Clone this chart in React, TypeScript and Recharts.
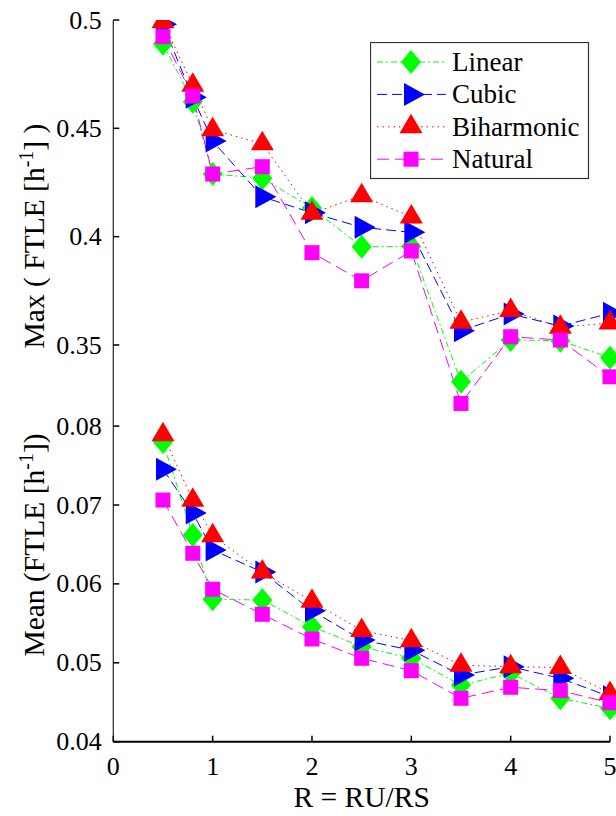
import React from 'react';
import { LineChart, Line, XAxis, YAxis, Legend } from 'recharts';

const FONT = "'Liberation Serif', 'Times New Roman', Times, 'DejaVu Serif', serif";
const TXT = { fontFamily: FONT };

const xValues = [0.5, 0.8, 1, 1.5, 2, 2.5, 3, 3.5, 4, 4.5, 5];

const maxLinear = [0.489, 0.4623, 0.4289, 0.427, 0.4132, 0.3953, 0.3955, 0.333, 0.3523, 0.352, 0.3441];
const maxCubic = [0.498, 0.4643, 0.4441, 0.4184, 0.411, 0.4043, 0.402, 0.3566, 0.3643, 0.3587, 0.3646];
const maxBiharmonic = [0.4992, 0.4699, 0.4493, 0.4429, 0.4108, 0.4189, 0.4091, 0.3605, 0.3659, 0.3582, 0.3601];
const maxNatural = [0.4923, 0.4649, 0.4289, 0.4323, 0.3926, 0.3796, 0.3934, 0.323, 0.3538, 0.3523, 0.3353];

const meanLinear = [0.078, 0.0662, 0.05805, 0.05796, 0.05458, 0.05204, 0.05057, 0.04719, 0.04867, 0.0455, 0.04423];
const meanCubic = [0.07452, 0.069, 0.0643, 0.0615, 0.0566, 0.0529, 0.0516, 0.04845, 0.0495, 0.04804, 0.0457];
const meanBiharmonic = [0.0789, 0.0706, 0.0661, 0.0615, 0.0578, 0.0541, 0.0528, 0.0497, 0.0495, 0.0494, 0.0461];
const meanNatural = [0.07063, 0.06388, 0.05932, 0.05615, 0.05302, 0.05057, 0.049, 0.0455, 0.0469, 0.04647, 0.04494];

const xTicks = [0, 1, 2, 3, 4, 5];
const maxTicks = [0.35, 0.4, 0.45, 0.5];
const meanTicks = [0.04, 0.05, 0.06, 0.07, 0.08];
const maxDomain = [0.3186, 0.5];
const meanDomain = [0.04, 0.08166];

const SERIES = [
  { key: 'linear', name: 'Linear', color: '#00ff00', dash: '6 3 2 3', marker: 'diamond' },
  { key: 'cubic', name: 'Cubic', color: '#0000ff', dash: '10 5', marker: 'triRight' },
  { key: 'biharmonic', name: 'Biharmonic', color: '#ff0000', dash: '1.5 4', marker: 'triUp' },
  { key: 'natural', name: 'Natural', color: '#ff00ff', dash: '12 6', marker: 'square' },
];

const maxData = xValues.map((x, i) => ({
  x,
  linear: maxLinear[i],
  cubic: maxCubic[i],
  biharmonic: maxBiharmonic[i],
  natural: maxNatural[i],
}));

const meanData = xValues.map((x, i) => ({
  x,
  linear: meanLinear[i],
  cubic: meanCubic[i],
  biharmonic: meanBiharmonic[i],
  natural: meanNatural[i],
}));

function Marker({ kind, cx, cy, color }: any) {
  if (cx == null || cy == null) return <g />;
  switch (kind) {
    case 'diamond':
      return <polygon points={`${cx},${cy - 12} ${cx + 10},${cy} ${cx},${cy + 12} ${cx - 10},${cy}`} fill={color} />;
    case 'triRight':
      return <polygon points={`${cx - 7},${cy - 11.5} ${cx + 14},${cy} ${cx - 7},${cy + 11.5}`} fill={color} />;
    case 'triUp':
      return <polygon points={`${cx},${cy - 13} ${cx + 11.5},${cy + 6.5} ${cx - 11.5},${cy + 6.5}`} fill={color} />;
    default:
      return <rect x={cx - 7.5} y={cy - 7.5} width={15} height={15} fill={color} />;
  }
}

const LeftTick = (props: any) => {
  const { x, y, payload } = props;
  return (
    <g>
      <line x1={x} y1={y} x2={x + 6} y2={y} stroke="#000" strokeWidth={1.5} />
      <text x={x - 11.5} y={y} dy="0.33em" textAnchor="end" fontSize={26} style={TXT} fill="#000">
        {String(payload.value)}
      </text>
    </g>
  );
};

const RightTick = (props: any) => {
  const { x, y } = props;
  return <line x1={x} y1={y} x2={x - 6} y2={y} stroke="#000" strokeWidth={1.5} />;
};

const TopTick = (props: any) => {
  const { x, y } = props;
  return <line x1={x} y1={y} x2={x} y2={y + 5} stroke="#000" strokeWidth={1.5} />;
};

const BottomTick = (props: any) => {
  const { x, y, payload } = props;
  return (
    <g>
      <line x1={x} y1={y} x2={x} y2={y - 6} stroke="#000" strokeWidth={1.5} />
      <text x={x} y={y + 33} textAnchor="middle" fontSize={26} style={TXT} fill="#000">
        {String(payload.value)}
      </text>
    </g>
  );
};

const YLabel = (text1: string, text2: string, centerOffset: number) => (props: any) => {
  const vb = props.viewBox || { x: 0, y: 0 };
  const cx = vb.x + 44;
  const cy = vb.y + centerOffset;
  return (
    <text transform={`translate(${cx},${cy}) rotate(-90)`} textAnchor="middle" fontSize={29.5} style={TXT} fill="#000">
      {text1}
      <tspan dy={-11} fontSize={20}>-1</tspan>
      <tspan dy={11}>{text2}</tspan>
    </text>
  );
};

const XLabel = (props: any) => {
  const vb = props.viewBox || { x: 0, y: 0, width: 0 };
  return (
    <text x={vb.x + vb.width / 2} y={vb.y + 65.5} textAnchor="middle" fontSize={29.5} style={TXT} fill="#000">
      R = RU/RS
    </text>
  );
};

const LegendBox = () => (
  <svg width={220} height={138} style={{ display: 'block' }}>
    <rect x={0.5} y={0.5} width={218} height={136} fill="#fff" stroke="#333" strokeWidth={1.2} />
    {SERIES.map((s, i) => {
      const cy = 20 + i * 32.4;
      return (
        <g key={s.key}>
          <line x1={7} x2={76} y1={cy} y2={cy} stroke={s.color} strokeWidth={1} strokeDasharray={s.dash} />
          <Marker kind={s.marker} cx={41} cy={cy} color={s.color} />
          <text x={82} y={cy} dy="0.33em" fontSize={27} style={TXT} fill="#000">
            {s.name}
          </text>
        </g>
      );
    })}
  </svg>
);

function renderLines(yAxisId: string) {
  return SERIES.map((s) => (
    <Line
      key={s.key}
      yAxisId={yAxisId}
      type="linear"
      dataKey={s.key}
      name={s.name}
      stroke={s.color}
      strokeWidth={1}
      strokeDasharray={s.dash}
      isAnimationActive={false}
      activeDot={false}
      dot={(p: any) => <Marker key={`${s.key}-${p.index}`} kind={s.marker} cx={p.cx} cy={p.cy} color={s.color} />}
    />
  ));
}

export default function App() {
  return (
    <div style={{ position: 'absolute', left: 0, top: 0, width: 616, height: 816, background: '#fff', fontFamily: FONT }}>
      <div style={{ position: 'absolute', left: 0, top: 0 }}>
        <LineChart width={616} height={413} data={maxData} margin={{ top: 20, right: 6, bottom: 0, left: 0 }}>
          <XAxis
            type="number"
            dataKey="x"
            orientation="top"
            domain={[0, 5]}
            ticks={xTicks}
            height={0}
            tickSize={0}
            tickMargin={0}
            interval={0}
            tick={<TopTick />}
            tickLine={false}
            axisLine={{ stroke: '#000', strokeWidth: 1.2 }}
          />
          <YAxis
            yAxisId="l"
            type="number"
            domain={maxDomain}
            allowDataOverflow
            ticks={maxTicks}
            width={113.3}
            tickSize={0}
            tickMargin={0}
            interval={0}
            tick={<LeftTick />}
            tickLine={false}
            axisLine={{ stroke: '#222', strokeWidth: 1.2 }}
            label={{ content: YLabel('Max ( FTLE [h', '] )', 216) }}
          />
          <YAxis
            yAxisId="r"
            orientation="right"
            type="number"
            domain={maxDomain}
            allowDataOverflow
            ticks={maxTicks}
            width={0}
            tickSize={0}
            tickMargin={0}
            interval={0}
            tick={<RightTick />}
            tickLine={false}
            axisLine={{ stroke: '#000', strokeWidth: 1.2 }}
          />
          {renderLines('l')}
          <Legend
            layout="vertical"
            align="center"
            verticalAlign="middle"
            content={<LegendBox />}
            wrapperStyle={{ position: 'absolute', left: 370, top: 42, width: 220, height: 138 }}
          />
        </LineChart>
      </div>
      <div style={{ position: 'absolute', left: 0, top: 413 }}>
        <LineChart width={616} height={403} data={meanData} margin={{ top: 0, right: 6, bottom: 0, left: 0 }}>
          <XAxis
            type="number"
            dataKey="x"
            orientation="bottom"
            domain={[0, 5]}
            ticks={xTicks}
            height={74.3}
            tickSize={0}
            tickMargin={0}
            interval={0}
            tick={<BottomTick />}
            tickLine={false}
            axisLine={{ stroke: '#000', strokeWidth: 2 }}
            label={{ content: XLabel }}
          />
          <YAxis
            yAxisId="l"
            type="number"
            domain={meanDomain}
            allowDataOverflow
            ticks={meanTicks}
            width={113.3}
            tickSize={0}
            tickMargin={0}
            interval={0}
            tick={<LeftTick />}
            tickLine={false}
            axisLine={{ stroke: '#222', strokeWidth: 1.2 }}
            label={{ content: YLabel('Mean (FTLE  [h', '])', 132) }}
          />
          <YAxis
            yAxisId="r"
            orientation="right"
            type="number"
            domain={meanDomain}
            allowDataOverflow
            ticks={meanTicks}
            width={0}
            tickSize={0}
            tickMargin={0}
            interval={0}
            tick={<RightTick />}
            tickLine={false}
            axisLine={{ stroke: '#000', strokeWidth: 1.2 }}
          />
          {renderLines('l')}
        </LineChart>
      </div>
    </div>
  );
}
